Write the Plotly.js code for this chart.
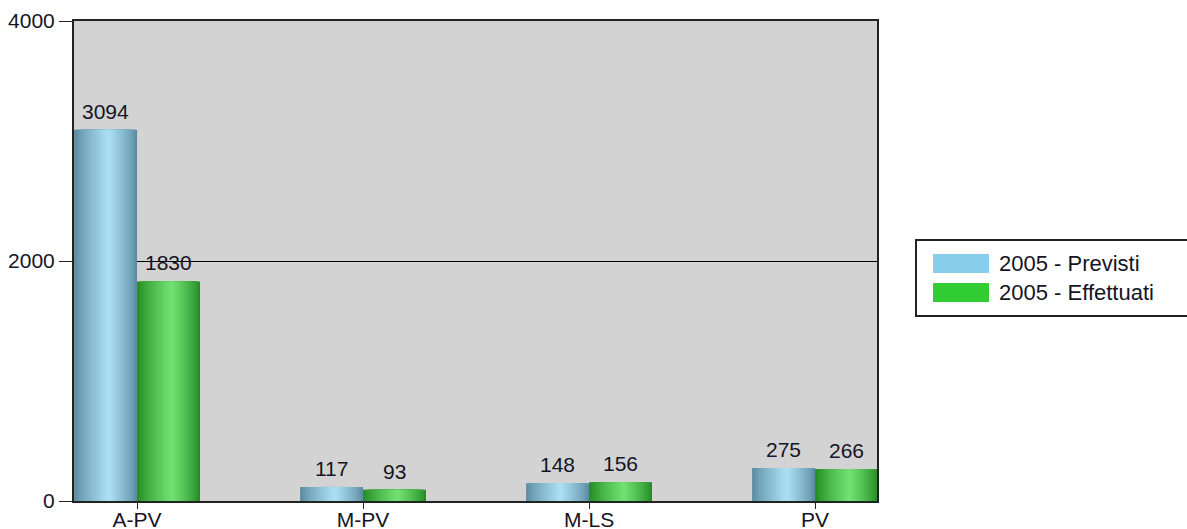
<!DOCTYPE html>
<html>
<head>
<meta charset="utf-8">
<script src="https://cdn.plot.ly/plotly-3.0.1.min.js"></script>
<style>html,body{margin:0;padding:0;background:#fff;}#chart{width:1187px;height:529px;}</style>
</head>
<body>
<div id="chart"></div>
<script>
// ---- data ----
const categories = ["A-PV", "M-PV", "M-LS", "PV"];
const previsti = [3094, 117, 148, 275];
const effettuati = [1830, 93, 156, 266];
const seriesNames = ["2005 - Previsti", "2005 - Effettuati"];
const legendColors = ["#87ceeb", "#32cd32"];
const yTicks = [0, 2000, 4000];

// ---- layout geometry ----
const W = 1187, H = 529;
const M = {l: 74, r: 310, t: 21, b: 28};
const PW = W - M.l - M.r, PH = H - M.t - M.b;
const px2x = p => (p - M.l) / PW;
const px2y = p => (H - M.b - p) / PH;

const barW = 0.2785;
const layers = 16;
const peak = 0.55;
const FONT = "Liberation Sans, Arial, sans-serif";
const TXT = "#151525";

function mix(dark, light, k) {
  k = Math.pow(Math.max(0, Math.min(1, k)), 0.8);
  const c = dark.map((d, i) => Math.round(d + (light[i] - d) * k));
  return `rgb(${c[0]},${c[1]},${c[2]})`;
}

const series = [
  {vals: previsti, name: seriesNames[0], off: -barW, dark: [92, 140, 162], light: [170, 222, 242]},
  {vals: effettuati, name: seriesNames[1], off: 0, dark: [36, 140, 36], light: [112, 224, 112]}
];

// nested layers: outer (darkest, full width) to inner (lightest, narrow) -> cylinder shading
const traces = [];
series.forEach(s => {
  for (let k = 0; k < layers; k++) {
    const f = 1 - k / layers;           // fraction of half-widths kept
    const left = peak - peak * f;
    const right = peak + (1 - peak) * f;
    traces.push({
      type: "bar",
      x: categories,
      y: s.vals,
      name: s.name,
      width: barW * (right - left),
      offset: s.off + barW * left,
      marker: {color: mix(s.dark, s.light, k / (layers - 1)), line: {width: 0}},
      showlegend: false,
      hoverinfo: "x+y+name"
    });
  }
});

const annotations = [];
series.forEach(s => {
  s.vals.forEach((v, i) => {
    annotations.push({
      x: i + s.off + barW / 2, xref: "x", y: v, yref: "y",
      text: String(v), showarrow: false, yanchor: "bottom", yshift: 5,
      font: {family: FONT, size: 21, color: TXT}
    });
  });
});

// custom legend (box, swatches, labels)
const shapes = [{
  type: "rect", xref: "paper", yref: "paper",
  x0: px2x(916), x1: px2x(1192), y0: px2y(316), y1: px2y(240),
  line: {color: "#222", width: 2}, fillcolor: "#fff"
}];
const swY = [[254, 273], [283, 302]];
seriesNames.forEach((n, i) => {
  shapes.push({
    type: "rect", xref: "paper", yref: "paper",
    x0: px2x(933), x1: px2x(989), y0: px2y(swY[i][1]), y1: px2y(swY[i][0]),
    line: {width: 0}, fillcolor: legendColors[i]
  });
  annotations.push({
    xref: "paper", yref: "paper", x: px2x(997), y: px2y((swY[i][0] + swY[i][1]) / 2),
    xanchor: "left", yanchor: "middle", text: n, showarrow: false,
    font: {family: FONT, size: 22, color: TXT}
  });
});

const layout = {
  width: W, height: H,
  margin: M,
  paper_bgcolor: "#ffffff",
  plot_bgcolor: "#d3d3d3",
  barmode: "overlay",
  showlegend: false,
  font: {family: FONT, size: 21, color: TXT},
  xaxis: {
    type: "category",
    range: [-0.279, 3.274],
    showline: true, linecolor: "#222", linewidth: 2, mirror: true,
    ticks: "outside", ticklen: 6, tickcolor: "#222", tickwidth: 1,
    ticklabelstandoff: -7,
    showgrid: false, zeroline: false,
    tickfont: {family: FONT, size: 21, color: TXT}
  },
  yaxis: {
    range: [0, 4000],
    tickvals: yTicks,
    ticktext: yTicks.map(String),
    showline: true, linecolor: "#222", linewidth: 2, mirror: true,
    ticks: "outside", ticklen: 13, tickcolor: "#222", tickwidth: 1,
    showgrid: true, gridcolor: "#000", gridwidth: 1,
    zeroline: false,
    tickfont: {family: FONT, size: 21, color: TXT}
  },
  shapes: shapes,
  annotations: annotations
};

Plotly.newPlot("chart", traces, layout, {displayModeBar: false, staticPlot: true});
</script>
</body>
</html>
